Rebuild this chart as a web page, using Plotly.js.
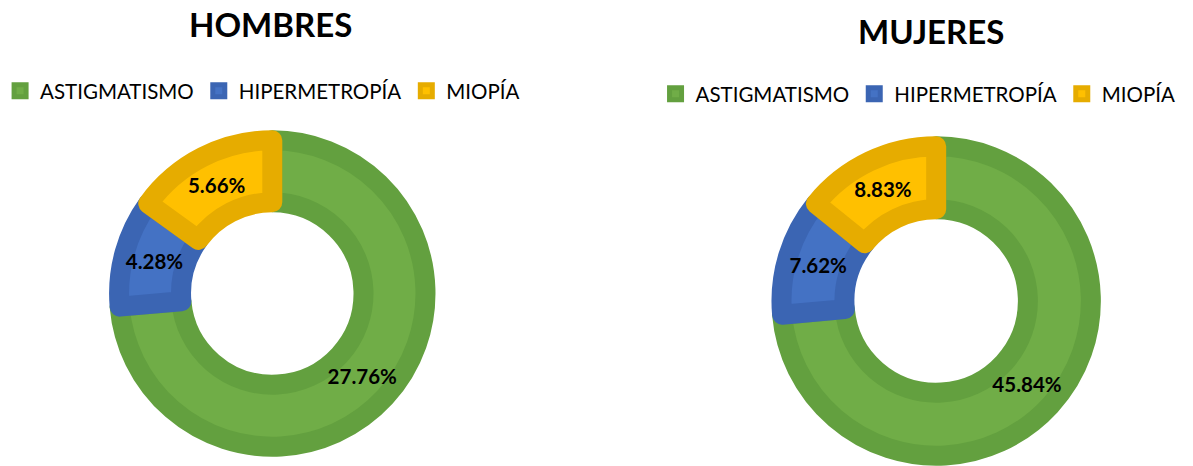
<!DOCTYPE html>
<html>
<head>
<meta charset="utf-8">
<script src="https://cdn.plot.ly/plotly-3.0.1.min.js"></script>
<style>html,body{margin:0;padding:0;background:#fff;}#chart{width:1193px;height:466px;}</style>
</head>
<body>
<div id="chart"></div>
<script>
const categories = ["ASTIGMATISMO", "HIPERMETROPÍA", "MIOPÍA"];
const hombresValues = [27.76, 4.28, 5.66];
const mujeresValues = [45.84, 7.62, 8.83];
const chartTitles = ["HOMBRES", "MUJERES"];

const fillColors = ["#70ad47", "#4472c4", "#ffc000"];
const borderColors = ["#63a03f", "#3b65b3", "#e6ac00"];
const W = 1193, H = 466;
const FONT = "Lato, 'Open Sans', sans-serif";
const LINE_W = 20;

function dom(cx, cy, r) {
  return {
    x: [(cx - r) / W, (cx + r) / W],
    y: [(H - cy - r) / H, (H - cy + r) / H]
  };
}

// ring drawn with an inset border (stroke half inside)
function ringTrace(values, geo, legendId, group) {
  const rDom = geo.rOut - LINE_W / 2;
  return {
    type: "pie",
    labels: categories,
    values: values,
    domain: dom(geo.cx, geo.cy, rDom),
    hole: (geo.rIn + LINE_W / 2) / rDom,
    sort: false,
    direction: "clockwise",
    rotation: 0,
    marker: { colors: fillColors, line: { color: borderColors, width: LINE_W } },
    textinfo: "none",
    hoverinfo: "none",
    legend: legendId,
    legendgroup: group,
    showlegend: true
  };
}

// same slices, transparent, carrying the data labels
function labelTrace(values, geo, group) {
  return {
    type: "pie",
    labels: categories,
    values: values,
    domain: dom(geo.cx, geo.cy, geo.rOut),
    hole: geo.rIn / geo.rOut,
    sort: false,
    direction: "clockwise",
    rotation: 0,
    marker: { colors: ["rgba(0,0,0,0)", "rgba(0,0,0,0)", "rgba(0,0,0,0)"], line: { width: 0 } },
    texttemplate: "%{value:.2f}%",
    textposition: "inside",
    insidetextorientation: "horizontal",
    textfont: { family: FONT, size: 20.5, color: "#000", weight: "bold" },
    hoverinfo: "none",
    legendgroup: group + "l",
    showlegend: false
  };
}

const geoH = { cx: 264.5, cy: 293.5, rOut: 164.5, rIn: 82 };
const geoM = { cx: 934, cy: 301, rOut: 166, rIn: 82.5 };

const data = [
  ringTrace(hombresValues, geoH, "legend", "h"),
  ringTrace(mujeresValues, geoM, "legend2", "m"),
  labelTrace(hombresValues, geoH, "h"),
  labelTrace(mujeresValues, geoM, "m")
];

const legendBase = {
  orientation: "h",
  xanchor: "left",
  yanchor: "middle",
  font: { family: FONT, size: 20.5, color: "#000" },
  bgcolor: "rgba(0,0,0,0)",
  traceorder: "normal"
};

const layout = {
  width: W, height: H,
  margin: { l: 0, r: 0, t: 0, b: 0 },
  paper_bgcolor: "#fff",
  showlegend: true,
  legend: Object.assign({}, legendBase, { x: -10 / W, y: (H - 91) / H }),
  legend2: Object.assign({}, legendBase, { x: 651 / W, y: (H - 94) / H }),
  annotations: [
    { text: chartTitles[0], x: 263 / W, y: (H - 24) / H, xref: "paper", yref: "paper",
      xanchor: "center", yanchor: "middle", showarrow: false,
      font: { family: FONT, size: 33, color: "#000", weight: "bold" } },
    { text: chartTitles[1], x: 928.5 / W, y: (H - 31.5) / H, xref: "paper", yref: "paper",
      xanchor: "center", yanchor: "middle", showarrow: false,
      font: { family: FONT, size: 33, color: "#000", weight: "bold" } }
  ]
};

Plotly.newPlot("chart", data, layout, { displayModeBar: false, staticPlot: true });
</script>
</body>
</html>
